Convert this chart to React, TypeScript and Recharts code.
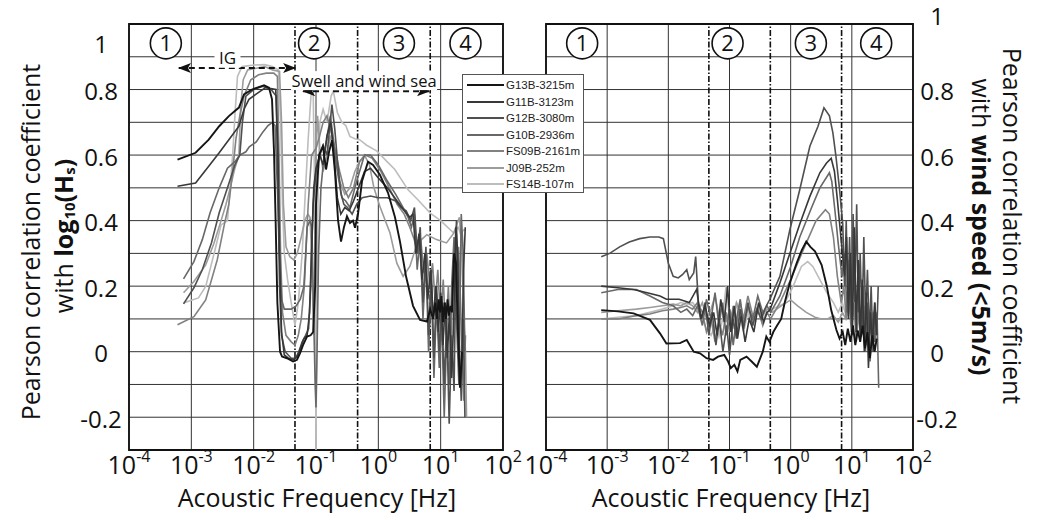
import React from 'react'
import {
  LineChart,
  Line,
  XAxis,
  YAxis,
  CartesianGrid,
  ReferenceLine,
  ReferenceDot,
  ReferenceArea,
} from 'recharts'

const FONT = '"Open Sans", "DejaVu Sans", sans-serif'

// axes
const xTicks = [1e-4, 1e-3, 1e-2, 1e-1, 1, 10, 100]
const yTicks = [-0.3, -0.2, -0.1, 0, 0.1, 0.2, 0.3, 0.4, 0.5, 0.6, 0.7, 0.8, 0.9, 1]
const labelledY = [-2, 0, 2, 4, 6, 8, 10] // tenths that carry a label

// frequency bands
const bandEdges = [0.046, 0.465, 6.8]
const bandNames = ['1', '2', '3', '4']
const bandCentres = [3.9e-4, 0.093, 2.14, 25]
const bandLevel = 0.941

// station names and grey levels
const stations = ['G13B-3215m', 'G11B-3123m', 'G12B-3080m', 'G10B-2936m', 'FS09B-2161m', 'J09B-252m', 'FS14B-107m']
const greys = ['#151515', '#383838', '#505050', '#686868', '#818181', '#9c9c9c', '#bdbdbd']

// correlation with log10(Hs): [frequency Hz, r]
const hsG13B = [
  [6e-4, 0.586], [1.17e-3, 0.607], [1.9e-3, 0.647], [2.8e-3, 0.688], [4e-3, 0.719], [5.8e-3, 0.745], [7e-3, 0.785], [9.4e-3, 0.8],
  [0.0147, 0.813], [0.0176, 0.806], [0.0197, 0.77], [0.0212, 0.61], [0.0225, 0.4], [0.024, 0.15], [0.0265, 0.0], [0.0285, -0.015],
  [0.0343, -0.02], [0.0428, -0.03], [0.0496, -0.025], [0.0553, -0.005], [0.0619, 0.02], [0.0718, 0.046], [0.082, 0.05], [0.09, 0.06],
  [0.097, 0.2], [0.1, 0.45], [0.106, 0.53], [0.112, 0.6], [0.129, 0.627], [0.145, 0.556], [0.162, 0.61], [0.181, 0.645], [0.202, 0.546],
  [0.226, 0.4], [0.252, 0.336], [0.281, 0.38], [0.314, 0.413], [0.351, 0.393], [0.392, 0.4], [0.423, 0.378], [0.472, 0.42], [0.547, 0.52],
  [0.683, 0.58], [0.822, 0.57], [1.06, 0.54], [1.43, 0.485], [1.85, 0.41], [2.23, 0.335], [2.78, 0.23], [3.6, 0.14], [4.67, 0.097],
  [6.04, 0.092], [6.8, 0.13], [7.54, 0.1], [8.2, 0.15], [8.73, 0.1], [9.3, 0.16], [9.75, 0.12], [10.3, 0.17], [10.9, 0.09], [11.5, 0.15],
  [12.2, 0.1], [12.9, 0.16], [13.6, 0.11], [14.4, 0.14], [15.2, 0.12], [16.4, 0.3], [17.6, 0.27], [19.0, 0.05], [20.4, -0.11], [22.0, 0.0],
]
const hsG11B = [
  [6e-4, 0.505], [1.17e-3, 0.515], [1.9e-3, 0.566], [2.8e-3, 0.607], [4e-3, 0.647], [5.8e-3, 0.688], [7e-3, 0.74], [8.4e-3, 0.77],
  [0.0108, 0.785], [0.0155, 0.806], [0.0226, 0.8], [0.0245, 0.62], [0.026, 0.3], [0.028, 0.06], [0.031, -0.01], [0.036, -0.02],
  [0.044, -0.025], [0.05, -0.015], [0.056, 0.01], [0.064, 0.04], [0.072, 0.05], [0.079, 0.12], [0.085, 0.32], [0.092, 0.5], [0.1, 0.56],
  [0.115, 0.6], [0.13, 0.57], [0.15, 0.66], [0.172, 0.7], [0.195, 0.6], [0.22, 0.47], [0.25, 0.42], [0.29, 0.44], [0.34, 0.43],
  [0.4, 0.46], [0.48, 0.5], [0.6, 0.55], [0.75, 0.56], [1.0, 0.53], [1.4, 0.5], [2.0, 0.46], [2.6, 0.43], [3.2, 0.41], [3.6, 0.42],
  [4.0, 0.3], [4.5, 0.36], [5.0, 0.22], [5.6, 0.3], [6.2, 0.16], [6.9, 0.25], [7.6, 0.1], [8.4, 0.2], [9.2, 0.06], [10.0, 0.18],
  [10.9, 0.02], [11.8, 0.15], [12.8, -0.02], [13.8, 0.12], [15.0, -0.08], [16.2, 0.1], [17.5, 0.38], [18.8, 0.3], [20.3, -0.1],
  [21.8, -0.05], [23.3, 0.25], [24.8, 0.38],
]
const hsG12B = [
  [7.5e-4, 0.146], [1.1e-3, 0.195], [1.5e-3, 0.25], [2.1e-3, 0.332], [2.8e-3, 0.424], [3.8e-3, 0.5], [5e-3, 0.57], [6e-3, 0.6],
  [6.6e-3, 0.7], [7.5e-3, 0.78], [0.01, 0.8], [0.014, 0.81], [0.019, 0.8], [0.023, 0.78], [0.0245, 0.5], [0.026, 0.2], [0.028, 0.05],
  [0.032, 0.0], [0.04, -0.02], [0.047, -0.02], [0.053, 0.0], [0.06, 0.03], [0.068, 0.05], [0.076, 0.07], [0.082, 0.2], [0.09, 0.45],
  [0.1, 0.55], [0.115, 0.6], [0.13, 0.63], [0.15, 0.6], [0.165, 0.68], [0.18, 0.754], [0.2, 0.68], [0.22, 0.586], [0.25, 0.485],
  [0.28, 0.45], [0.32, 0.44], [0.38, 0.42], [0.45, 0.45], [0.55, 0.47], [0.75, 0.475], [1.0, 0.47], [1.4, 0.47], [1.9, 0.46],
  [2.3, 0.44], [2.8, 0.43], [3.3, 0.4], [3.8, 0.44], [4.2, 0.3], [4.7, 0.38], [5.2, 0.15], [5.8, 0.32], [6.4, 0.05], [7.1, 0.25],
  [7.8, -0.02], [8.6, 0.2], [9.5, 0.0], [10.4, 0.15], [11.4, -0.1], [12.5, 0.1], [13.7, -0.22], [15.0, 0.05], [16.4, -0.12],
  [17.9, 0.4], [19.6, 0.05], [21.4, -0.15], [23.0, 0.1], [24.5, -0.2],
]
const hsG10B = [
  [7.5e-4, 0.222], [1.1e-3, 0.275], [1.5e-3, 0.342], [2e-3, 0.424], [2.8e-3, 0.5], [3.8e-3, 0.56], [5e-3, 0.58], [6e-3, 0.6],
  [7.5e-3, 0.61], [8.5e-3, 0.625], [0.011, 0.64], [0.014, 0.67], [0.017, 0.69], [0.02, 0.7], [0.022, 0.69], [0.024, 0.5], [0.026, 0.3],
  [0.028, 0.16], [0.031, 0.13], [0.04, 0.13], [0.048, 0.14], [0.056, 0.16], [0.064, 0.2], [0.072, 0.38], [0.08, 0.4], [0.086, 0.38],
  [0.092, 0.1], [0.097, -0.1], [0.1, -0.17], [0.104, 0.0], [0.11, 0.3], [0.12, 0.5], [0.135, 0.6], [0.15, 0.65], [0.17, 0.72],
  [0.19, 0.65], [0.22, 0.55], [0.26, 0.47], [0.3, 0.46], [0.35, 0.44], [0.42, 0.5], [0.5, 0.55], [0.6, 0.6], [0.75, 0.6], [1.0, 0.57],
  [1.4, 0.52], [1.9, 0.48], [2.5, 0.44], [3.0, 0.41], [3.4, 0.38], [3.8, 0.42], [4.2, 0.25], [4.7, 0.35], [5.2, 0.1], [5.8, 0.28],
  [6.4, 0.0], [7.1, 0.2], [7.8, -0.08], [8.6, 0.15], [9.5, -0.05], [10.4, 0.1], [11.4, -0.2], [12.5, 0.05], [13.7, -0.1], [15.0, 0.2],
  [16.4, 0.35], [17.9, 0.1], [19.6, -0.1], [21.4, 0.42], [23.0, 0.3], [24.5, 0.0],
]
const hsFS09B = [
  [6e-4, 0.082], [1.1e-3, 0.107], [1.7e-3, 0.158], [2.6e-3, 0.28], [3.4e-3, 0.39], [4e-3, 0.45], [4.6e-3, 0.55], [5.2e-3, 0.65],
  [6e-3, 0.72], [7e-3, 0.78], [9e-3, 0.83], [0.012, 0.845], [0.016, 0.85], [0.021, 0.85], [0.024, 0.84], [0.0255, 0.6], [0.027, 0.3],
  [0.029, 0.12], [0.033, 0.05], [0.04, 0.03], [0.046, 0.02], [0.052, 0.05], [0.058, 0.1], [0.065, 0.2], [0.075, 0.45], [0.085, 0.6],
  [0.1, 0.62], [0.115, 0.66], [0.13, 0.7], [0.15, 0.72], [0.17, 0.68], [0.2, 0.62], [0.24, 0.55], [0.28, 0.5], [0.33, 0.47],
  [0.4, 0.5], [0.5, 0.58], [0.62, 0.6], [0.8, 0.59], [1.1, 0.55], [1.5, 0.5], [2.0, 0.45], [2.6, 0.42], [3.2, 0.38], [3.8, 0.34],
  [4.3, 0.3], [4.8, 0.34], [5.4, 0.24], [6.0, 0.3], [6.7, 0.2], [7.4, 0.27], [8.2, 0.15], [9.0, 0.25], [10.0, 0.1], [11.0, 0.22],
  [12.1, 0.05], [13.3, 0.2], [14.6, 0.0], [16.0, 0.28], [17.6, 0.15], [19.4, 0.32], [21.3, 0.1], [23.4, -0.15], [25.0, 0.05],
]
const hsJ09B = [
  [7.5e-4, 0.18], [1.1e-3, 0.214], [1.7e-3, 0.265], [2.3e-3, 0.33], [3e-3, 0.4], [3.6e-3, 0.45], [4.2e-3, 0.5], [5e-3, 0.56],
  [5.8e-3, 0.6], [6.2e-3, 0.75], [6.8e-3, 0.83], [8e-3, 0.86], [0.011, 0.865], [0.015, 0.87], [0.02, 0.86], [0.026, 0.855],
  [0.028, 0.7], [0.03, 0.45], [0.033, 0.32], [0.038, 0.29], [0.044, 0.28], [0.05, 0.3], [0.058, 0.35], [0.066, 0.4], [0.074, 0.42],
  [0.08, 0.41], [0.085, 0.3], [0.09, 0.1], [0.093, 0.05], [0.096, 0.3], [0.1, 0.6], [0.106, 0.72], [0.115, 0.62], [0.13, 0.55],
  [0.15, 0.6], [0.17, 0.66], [0.2, 0.6], [0.24, 0.52], [0.29, 0.48], [0.35, 0.5], [0.42, 0.55], [0.5, 0.58], [0.6, 0.6], [0.72, 0.57],
  [0.85, 0.5], [1.06, 0.443], [1.54, 0.362], [1.98, 0.27], [2.5, 0.23], [3.2, 0.26], [4.2, 0.33], [6.0, 0.357], [8.6, 0.342],
  [12.4, 0.332], [16.0, 0.36], [20.0, 0.41], [22.0, 0.3], [23.5, 0.1], [25.0, 0.0], [26.0, -0.2],
]
const hsFS14B = [
  [7.5e-4, 0.149], [1.3e-3, 0.164], [1.7e-3, 0.199], [2.4e-3, 0.311], [3e-3, 0.387], [3.8e-3, 0.4], [4.2e-3, 0.5], [4.6e-3, 0.6],
  [5e-3, 0.72], [5.5e-3, 0.84], [6.5e-3, 0.87], [0.01, 0.875], [0.015, 0.876], [0.02, 0.87], [0.025, 0.86], [0.027, 0.7],
  [0.029, 0.45], [0.031, 0.3], [0.035, 0.22], [0.04, 0.15], [0.046, 0.08], [0.052, 0.15], [0.06, 0.3], [0.068, 0.5], [0.075, 0.65],
  [0.083, 0.78], [0.09, 0.8], [0.095, 0.5], [0.098, 0.0], [0.1, -0.3], [0.103, 0.1], [0.108, 0.5], [0.115, 0.7], [0.13, 0.74],
  [0.15, 0.7], [0.175, 0.78], [0.19, 0.795], [0.22, 0.73], [0.26, 0.7], [0.3, 0.69], [0.35, 0.657], [0.42, 0.65], [0.5, 0.647],
  [0.65, 0.63], [0.95, 0.612], [1.38, 0.58], [1.84, 0.556], [3.0, 0.494], [4.5, 0.46], [6.8, 0.423], [10.0, 0.4], [16.2, 0.362],
  [19.0, 0.38], [21.0, 0.36], [23.5, 0.372], [25.5, 0.37],
]

// correlation with wind speed (<5 m/s): [frequency Hz, r]
const wsG13B = [
  [8e-4, 0.127], [1.5e-3, 0.123], [2.7e-3, 0.117], [5e-3, 0.097], [7.3e-3, 0.056], [9.3e-3, 0.025], [0.0155, 0.026], [0.02, 0.036],
  [0.026, 0.0], [0.033, -0.005], [0.042, -0.02], [0.054, -0.025], [0.065, -0.015], [0.082, -0.01], [0.095, -0.03], [0.105, -0.05],
  [0.12, -0.04], [0.135, -0.06], [0.15, -0.025], [0.19, -0.015], [0.23, -0.03], [0.28, -0.046], [0.35, 0.0], [0.4, 0.046],
  [0.45, 0.03], [0.52, 0.06], [0.6, 0.08], [0.7, 0.1], [0.8, 0.15], [0.97, 0.21], [1.25, 0.27], [1.52, 0.31], [1.8, 0.336],
  [2.1, 0.32], [2.5, 0.306], [3.2, 0.265], [3.9, 0.2], [4.6, 0.127], [5.6, 0.066], [6.3, 0.04], [7.1, 0.06], [7.8, 0.02],
  [8.6, 0.07], [9.5, 0.03], [10.4, 0.08], [11.4, 0.02], [12.5, 0.065], [13.7, 0.03], [15.0, 0.08], [16.4, 0.01], [18.0, 0.06],
  [19.7, -0.02], [21.6, 0.05], [23.6, 0.0], [25.5, 0.04],
]
const wsG11B = [
  [8e-4, 0.2], [1.5e-3, 0.195], [2.7e-3, 0.19], [4.5e-3, 0.18], [7.3e-3, 0.17], [9.3e-3, 0.16], [0.015, 0.16], [0.022, 0.15],
  [0.029, 0.19], [0.034, 0.1], [0.04, 0.14], [0.047, 0.08], [0.055, 0.12], [0.063, 0.05], [0.072, 0.16], [0.082, 0.09],
  [0.093, 0.2], [0.105, 0.06], [0.12, 0.14], [0.135, 0.04], [0.155, 0.11], [0.18, 0.03], [0.21, 0.1], [0.25, 0.06], [0.3, 0.15],
  [0.36, 0.09], [0.41, 0.12], [0.457, 0.127], [0.667, 0.21], [0.97, 0.3], [1.41, 0.39], [2.06, 0.474], [3.0, 0.546], [3.86, 0.576],
  [4.6, 0.59], [5.2, 0.55], [5.8, 0.464], [6.7, 0.34], [7.6, 0.23], [8.2, 0.35], [8.8, 0.1], [9.5, 0.3], [10.2, 0.05], [11.0, 0.38],
  [11.8, 0.06], [12.7, 0.28], [13.7, 0.04], [14.8, 0.22], [16.0, 0.0], [17.3, 0.18], [18.7, -0.05], [20.2, 0.12], [21.8, 0.02],
  [23.6, 0.15], [25.5, 0.05],
]
const wsG12B = [
  [8e-4, 0.29], [1.1e-3, 0.3], [1.6e-3, 0.32], [2.3e-3, 0.335], [3.4e-3, 0.345], [5e-3, 0.35], [7e-3, 0.35], [8.3e-3, 0.345],
  [0.01, 0.27], [0.012, 0.23], [0.0145, 0.225], [0.017, 0.235], [0.02, 0.25], [0.022, 0.22], [0.026, 0.24], [0.028, 0.29],
  [0.031, 0.15], [0.035, 0.1], [0.04, 0.15], [0.046, 0.05], [0.052, 0.12], [0.06, 0.02], [0.068, 0.1], [0.078, 0.0], [0.09, 0.08],
  [0.1, -0.01], [0.115, 0.1], [0.13, 0.04], [0.15, 0.13], [0.17, 0.07], [0.2, 0.15], [0.24, 0.08], [0.28, 0.13], [0.33, 0.1],
  [0.4, 0.14], [0.457, 0.16], [0.667, 0.23], [0.97, 0.372], [1.41, 0.495], [2.06, 0.627], [2.8, 0.688], [3.5, 0.744], [4.3, 0.72],
  [4.9, 0.668], [5.5, 0.596], [6.3, 0.495], [7.1, 0.39], [7.6, 0.2], [8.1, 0.4], [8.6, 0.15], [9.2, 0.35], [9.8, 0.1], [10.5, 0.42],
  [11.2, 0.15], [12.0, 0.45], [12.8, 0.12], [13.7, 0.3], [14.7, 0.08], [15.7, 0.35], [16.8, 0.1], [18.0, 0.25], [19.3, 0.05],
  [20.7, 0.2], [22.2, 0.0], [23.8, 0.15], [25.5, 0.05], [27.0, 0.2],
]
const wsG10B = [
  [8e-4, 0.18], [1.5e-3, 0.19], [3e-3, 0.19], [5e-3, 0.17], [8e-3, 0.15], [0.012, 0.14], [0.016, 0.12], [0.02, 0.13], [0.025, 0.11],
  [0.03, 0.14], [0.036, 0.08], [0.042, 0.16], [0.05, 0.1], [0.058, 0.18], [0.067, 0.08], [0.077, 0.15], [0.088, 0.05], [0.1, 0.13],
  [0.115, 0.02], [0.13, 0.1], [0.15, 0.16], [0.17, 0.08], [0.2, 0.14], [0.24, 0.1], [0.29, 0.17], [0.35, 0.12], [0.41, 0.14],
  [0.47, 0.12], [0.667, 0.17], [1.0, 0.26], [1.41, 0.35], [2.2, 0.44], [3.0, 0.5], [4.3, 0.546], [4.7, 0.52], [5.3, 0.43], [6.0, 0.33],
  [6.9, 0.23], [7.6, 0.3], [8.3, 0.12], [9.0, 0.28], [9.8, 0.08], [10.7, 0.35], [11.7, 0.1], [12.8, 0.26], [14.0, 0.05], [15.3, 0.2],
  [16.7, 0.0], [18.2, 0.15], [19.9, -0.03], [21.7, 0.1], [23.7, 0.03], [25.8, 0.12], [27.5, -0.11],
]
const wsFS09B = [
  [8e-4, 0.1], [1.5e-3, 0.1], [3e-3, 0.11], [5e-3, 0.115], [8e-3, 0.125], [0.012, 0.13], [0.016, 0.135], [0.02, 0.14], [0.025, 0.13],
  [0.03, 0.15], [0.036, 0.12], [0.042, 0.06], [0.05, 0.1], [0.058, 0.03], [0.067, 0.09], [0.077, 0.05], [0.088, 0.12], [0.1, 0.06],
  [0.115, 0.14], [0.13, 0.08], [0.15, 0.15], [0.17, 0.1], [0.2, 0.17], [0.24, 0.11], [0.29, 0.13], [0.35, 0.08], [0.41, 0.12],
  [0.47, 0.1], [0.667, 0.15], [1.0, 0.22], [1.6, 0.31], [2.6, 0.4], [3.7, 0.433], [4.3, 0.42], [5.0, 0.35], [5.8, 0.23], [6.7, 0.15],
  [7.4, 0.2], [8.1, 0.1], [8.9, 0.18], [9.8, 0.06], [10.8, 0.15], [11.8, 0.03], [13.0, 0.12], [14.3, 0.05], [15.7, 0.14],
  [17.2, 0.02], [18.9, 0.1], [20.8, 0.05], [22.8, 0.12], [25.0, 0.03],
]
const wsJ09B = [
  [8e-4, 0.12], [1.5e-3, 0.125], [3e-3, 0.13], [5e-3, 0.135], [8e-3, 0.14], [0.012, 0.145], [0.016, 0.14], [0.02, 0.15], [0.025, 0.14],
  [0.03, 0.12], [0.036, 0.15], [0.042, 0.1], [0.05, 0.13], [0.058, 0.17], [0.067, 0.11], [0.077, 0.14], [0.088, 0.09], [0.1, 0.13],
  [0.115, 0.1], [0.13, 0.15], [0.15, 0.12], [0.17, 0.09], [0.2, 0.13], [0.24, 0.1], [0.29, 0.12], [0.35, 0.11], [0.41, 0.13],
  [0.5, 0.12], [0.7, 0.14], [1.0, 0.158], [1.3, 0.14], [1.8, 0.12], [2.5, 0.105], [3.2, 0.1], [4.0, 0.1], [5.0, 0.11], [6.0, 0.09],
  [7.0, 0.12], [8.0, 0.1], [9.0, 0.14], [10.0, 0.1], [11.5, 0.13], [13.0, 0.09], [14.5, 0.12], [16.0, 0.1], [18.0, 0.14],
  [20.0, 0.09], [22.0, 0.12], [24.0, 0.08], [26.0, 0.06],
]
const wsFS14B = [
  [8e-4, 0.1], [1.5e-3, 0.105], [3e-3, 0.11], [5e-3, 0.12], [8e-3, 0.13], [0.012, 0.14], [0.016, 0.15], [0.02, 0.145], [0.025, 0.15],
  [0.03, 0.13], [0.036, 0.1], [0.042, 0.07], [0.05, 0.05], [0.058, 0.08], [0.067, 0.046], [0.077, 0.1], [0.088, 0.2], [0.1, 0.1],
  [0.115, 0.07], [0.13, 0.15], [0.15, 0.1], [0.17, 0.06], [0.2, 0.12], [0.24, 0.08], [0.29, 0.14], [0.35, 0.1], [0.41, 0.12],
  [0.5, 0.13], [0.8, 0.148], [1.1, 0.2], [1.5, 0.26], [1.9, 0.275], [2.3, 0.26], [3.0, 0.22], [3.9, 0.18], [5.0, 0.15], [6.0, 0.12],
  [7.0, 0.15], [8.0, 0.11], [9.0, 0.14], [10.0, 0.1], [11.5, 0.15], [13.0, 0.11], [14.5, 0.14], [16.0, 0.1], [18.0, 0.13],
  [20.0, 0.1], [22.0, 0.12], [24.0, 0.09], [26.5, 0.08],
]

const hsData = [hsG13B, hsG11B, hsG12B, hsG10B, hsFS09B, hsJ09B, hsFS14B]
const wsData = [wsG13B, wsG11B, wsG12B, wsG10B, wsFS09B, wsJ09B, wsFS14B]

const toPoints = (rows: number[][]) => rows.map(([f, r]) => ({ f, r }))

function XTick(props: any) {
  const { x, payload } = props
  const exp = Math.round(Math.log10(payload.value))
  return (
    <text x={x} y={474} textAnchor="middle" fontFamily={FONT} fontSize={25} fill="#111">
      <tspan>10</tspan>
      <tspan dy={-12} fontSize={16}>{exp}</tspan>
    </text>
  )
}

// y tick labels only on every second grid line, "1" sits off its line in the original
const makeYTick = (cx: number, topShift: number) => (props: any) => {
  const { y, payload } = props
  const k = Math.round(payload.value * 10)
  if (!labelledY.includes(k)) return <g />
  const label = k === 10 ? '1' : k === 0 ? '0' : (k / 10).toFixed(1)
  return (
    <text x={cx} y={y + (k === 10 ? topShift : 2)} dy="0.36em" textAnchor="middle" fontFamily={FONT} fontSize={24} fill="#111">
      {label}
    </text>
  )
}

const bandMark = (label: string) => (p: any) => (
  <g>
    <circle cx={p.cx} cy={p.cy} r={15.5} fill="#fff" stroke="#111" strokeWidth={1.6} />
    <text x={p.cx} y={p.cy} dy="0.36em" textAnchor="middle" fontFamily={FONT} fontSize={22} fill="#111">
      {label}
    </text>
  </g>
)

const arrowHead = (dir: number) => (p: any) => (
  <path d={`M${p.cx},${p.cy} l${-dir * 13},-5 l${dir * 3},5 l${-dir * 3},5 z`} fill="#111" />
)

const boxedText = (label: string, size: number, w: number) => (p: any) => (
  <g>
    <rect x={p.cx - w / 2} y={p.cy - size * 0.6} width={w} height={size * 1.15} fill="#fff" />
    <text x={p.cx} y={p.cy} dy="0.35em" textAnchor="middle" fontFamily={FONT} fontSize={size} fill="#111">
      {label}
    </text>
  </g>
)

function Panel({ series, side }: { series: number[][][]; side: 'left' | 'right' }) {
  const left = side === 'left'
  // left chart is drawn wider than its plot so the "10^2" label is not clipped
  const margin = left ? { top: 24, right: 37, bottom: 15, left: 69 } : { top: 24, right: 80, bottom: 15, left: 26 }
  const order = [6, 5, 4, 3, 2, 1, 0]
  return (
    <LineChart width={left ? 540 : 533} height={515} margin={margin}>
      <CartesianGrid stroke="#333" strokeWidth={1} />
      <XAxis
        dataKey="f"
        type="number"
        scale="log"
        domain={[1e-4, 100]}
        allowDataOverflow
        ticks={xTicks}
        interval={0}
        tick={(p: any) => <XTick {...p} />}
        axisLine={false}
        tickLine={false}
        height={50}
      />
      <YAxis
        type="number"
        orientation={side}
        domain={[-0.3, 1]}
        allowDataOverflow
        ticks={yTicks}
        interval={0}
        tick={makeYTick(left ? 101 : 417, left ? 20 : -8)}
        axisLine={false}
        tickLine={false}
        width={60}
      />
      <ReferenceArea x1={1e-4} x2={100} y1={-0.3} y2={1} fill="none" fillOpacity={0} stroke="#111" strokeWidth={1.8} />
      {bandEdges.map((f) => (
        <ReferenceLine key={f} x={f} stroke="#111" strokeWidth={1.6} strokeDasharray="6 2 1.5 2" />
      ))}
      {order.map((i) => (
        <Line
          key={stations[i]}
          data={toPoints(series[i])}
          dataKey="r"
          name={stations[i]}
          type="linear"
          stroke={greys[i]}
          strokeWidth={i === 0 ? 1.9 : 1.6}
          dot={false}
          activeDot={false}
          isAnimationActive={false}
        />
      ))}
      {bandNames.map((b, i) => (
        <ReferenceDot key={b} x={bandCentres[i]} y={bandLevel} r={15} shape={bandMark(b)} />
      ))}
      {left && (
        <>
          <ReferenceLine segment={[{ x: 6.3e-4, y: 0.866 }, { x: 0.046, y: 0.866 }]} stroke="#111" strokeWidth={2} strokeDasharray="6 4" />
          <ReferenceDot x={6.1e-4} y={0.866} r={1} shape={arrowHead(-1)} />
          <ReferenceDot x={0.048} y={0.866} r={1} shape={arrowHead(1)} />
          <ReferenceDot x={3.8e-3} y={0.895} r={1} shape={boxedText('IG', 17, 26)} />
          <ReferenceLine segment={[{ x: 0.062, y: 0.795 }, { x: 6.5, y: 0.795 }]} stroke="#111" strokeWidth={2} strokeDasharray="6 4" />
          <ReferenceDot x={0.06} y={0.795} r={1} shape={arrowHead(-1)} />
          <ReferenceDot x={6.75} y={0.795} r={1} shape={arrowHead(1)} />
          <ReferenceDot x={0.59} y={0.826} r={1} shape={boxedText('Swell and wind sea', 16.5, 146)} />
        </>
      )}
    </LineChart>
  )
}

function Legend() {
  return (
    <div
      style={{
        position: 'absolute',
        left: 462,
        top: 74,
        width: 122,
        height: 119,
        border: '1px solid #555',
        background: '#fff',
        paddingTop: 2,
        boxSizing: 'border-box',
        zIndex: 2,
        fontFamily: '"Liberation Sans", Arial, sans-serif',
        fontSize: 11.5,
        color: '#222',
      }}
    >
      {stations.map((s, i) => (
        <div key={s} style={{ display: 'flex', alignItems: 'center', height: 16.5, whiteSpace: 'nowrap' }}>
          <div style={{ marginLeft: 4, width: 37, height: 2, background: greys[i] }} />
          <span style={{ marginLeft: 2 }}>{s}</span>
        </div>
      ))}
    </div>
  )
}

export default function App() {
  return (
    <div style={{ position: 'absolute', left: 0, top: 0, width: 1053, height: 515, background: '#fff', overflow: 'hidden' }}>
      <div style={{ position: 'absolute', left: 0, top: 0 }}>
        <Panel series={hsData} side="left" />
      </div>
      <div style={{ position: 'absolute', left: 520, top: 0 }}>
        <Panel series={wsData} side="right" />
      </div>
      <svg width={1053} height={515} style={{ position: 'absolute', left: 0, top: 0, pointerEvents: 'none' }} fontFamily={FONT} fill="#111">
        <text transform="translate(30,242) rotate(-90)" textAnchor="middle" dominantBaseline="central" fontSize={25}>
          Pearson correlation coefficient
        </text>
        <text transform="translate(63,236) rotate(-90)" textAnchor="middle" dominantBaseline="central" fontSize={25}>
          with <tspan fontWeight="bold">log</tspan>
          <tspan fontWeight="bold" fontSize={15} dy={6}>10</tspan>
          <tspan fontWeight="bold" dy={-6}>(H</tspan>
          <tspan fontWeight="bold" fontSize={15} dy={6}>s</tspan>
          <tspan fontWeight="bold" dy={-6}>)</tspan>
        </text>
        <text x={317} y={507} textAnchor="middle" fontSize={25}>Acoustic Frequency [Hz]</text>
        <text x={731} y={507} textAnchor="middle" fontSize={25}>Acoustic Frequency [Hz]</text>
        <text transform="translate(1013,226) rotate(90)" textAnchor="middle" dominantBaseline="central" fontSize={25}>
          Pearson correlation coefficient
        </text>
        <text transform="translate(982,227) rotate(90)" textAnchor="middle" dominantBaseline="central" fontSize={25}>
          with <tspan fontWeight="bold">wind speed (&lt;5m/s)</tspan>
        </text>
      </svg>
      <Legend />
    </div>
  )
}
